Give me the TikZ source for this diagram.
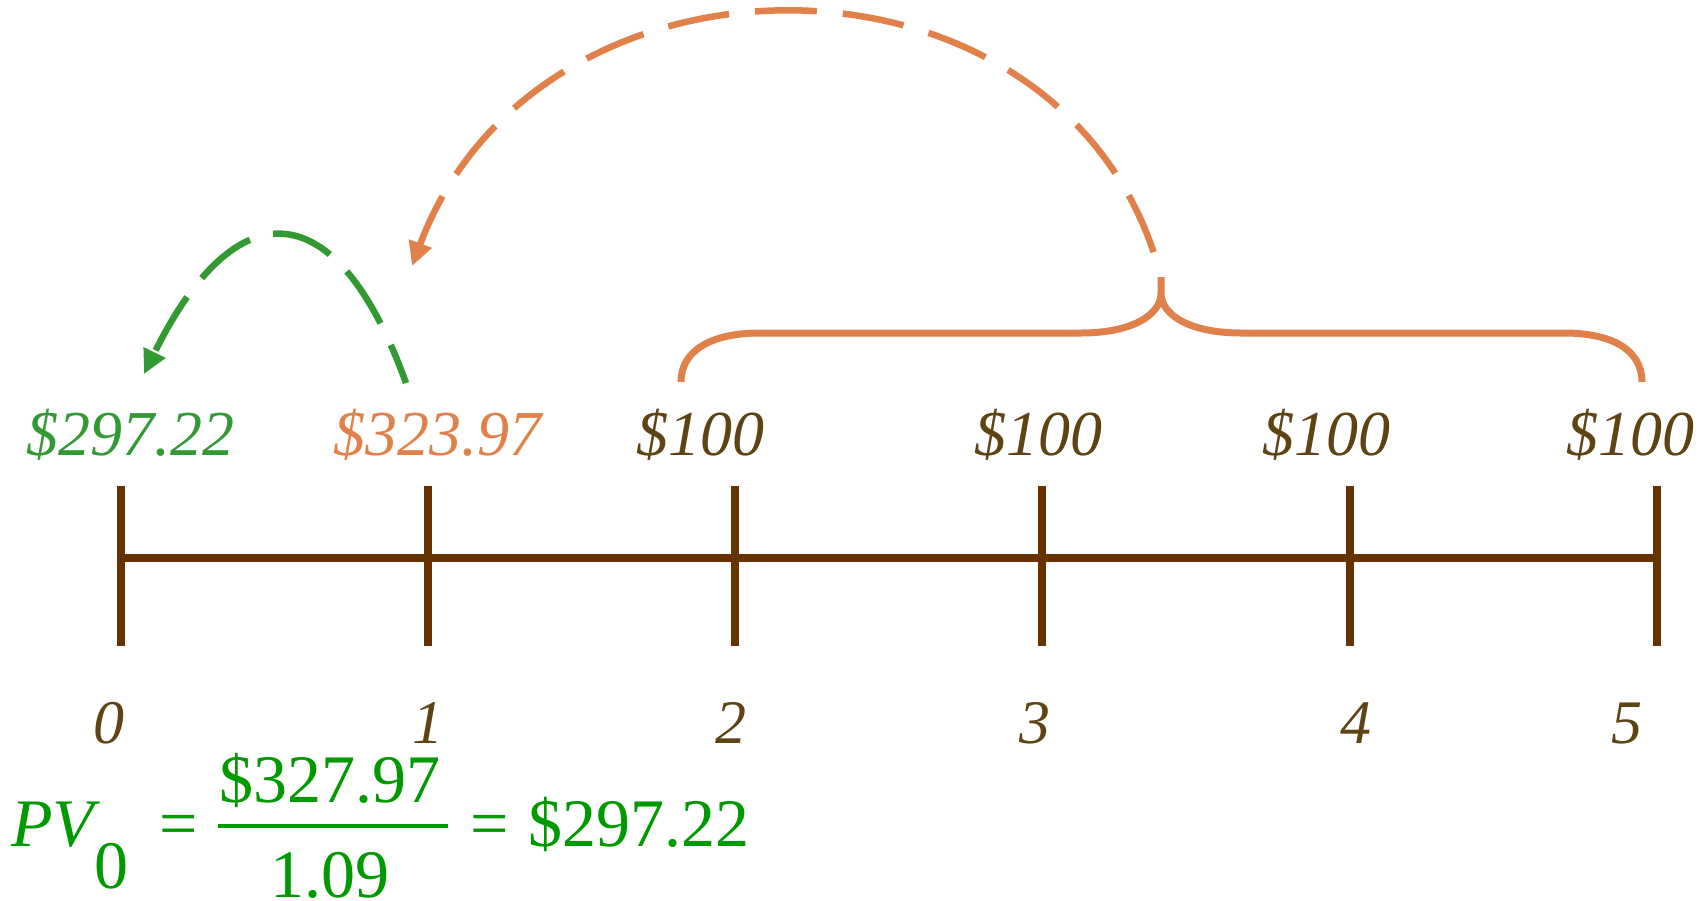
\documentclass[tikz,border=0pt]{standalone}
\usepackage{fontspec}
\setmainfont{Liberation Serif}
\usetikzlibrary{arrows.meta}
\definecolor{tl}{HTML}{663300}
\definecolor{lb}{HTML}{5E4314}
\definecolor{gr}{HTML}{339933}
\definecolor{fg}{HTML}{009900}
\definecolor{og}{HTML}{E0804A}
\begin{document}
\begin{tikzpicture}[x=1pt,y=-1pt,
  tickline/.style={draw=tl,line width=8pt},
  axisline/.style={draw=tl,line width=7.5pt},
  lab/.style={anchor=base,inner sep=0pt,font=\fontsize{64}{70}\selectfont\itshape},
  num/.style={anchor=base,inner sep=0pt,text=lb,font=\fontsize{62}{68}\selectfont\itshape},
  frm/.style={anchor=base,inner sep=0pt,text=fg,font=\fontsize{68}{72}\selectfont},
  jump/.style={line width=6.5pt,-{Triangle[length=24pt,width=23pt]}},
  bracestyle/.style={draw=og,line width=7pt}
]
\useasboundingbox (0,0) rectangle (1703,900);
% timeline
\foreach \i in {0,...,5}{
  \coordinate (t\i) at ({120.5+307.3*\i},558);
  \coordinate (t\i a) at ({120.5+307.3*\i},486);
  \coordinate (t\i b) at ({120.5+307.3*\i},646);
  \draw[tickline] (t\i a) -- (t\i b);
}
\draw[axisline] (t0) -- (t5);
% period numbers
\node[num] (n0) at (109,743) {0};
\node[num] (n1) at (428,743) {1};
\node[num] (n2) at (731,743) {2};
\node[num] (n3) at (1035,743) {3};
\node[num] (n4) at (1356,743) {4};
\node[num] (n5) at (1627,743) {5};
% cash flow labels
\node[lab,text=gr] (v0) at (131,455) {\$297.22};
\node[lab,text=og] (v1) at (437,455) {\$323.97};
\node[lab,text=lb] (c2) at (700,455) {\$100};
\node[lab,text=lb] (c3) at (1038,455) {\$100};
\node[lab,text=lb] (c4) at (1326,455) {\$100};
\node[lab,text=lb] (c5) at (1630,455) {\$100};
% brace
\coordinate (bl) at (681,382);
\coordinate (br) at (1642,382);
\coordinate (bj) at (1161,293);
\coordinate (btip) at (1161,277);
\draw[bracestyle] (bl) .. controls (681,350) and (712,333) .. (760,333) -- (1081,333)
  .. controls (1132,333) and (1161,315) .. (bj) -- (btip)
  (bj) .. controls (1161,315) and (1190,333) .. (1241,333) -- (1564,333)
  .. controls (1612,333) and (1642,350) .. (br);
% arcs
\coordinate (oend) at (412,266);
\draw[jump,draw=og,dash pattern=on 62pt off 26pt,dash phase=62pt] (btip) .. controls (1071,-70) and (540,-76) .. (oend);
\coordinate (gstart) at (406,383);
\coordinate (gend) at (144,374);
\draw[jump,draw=gr,dash pattern=on 62pt off 24pt,dash phase=21pt] (gstart) .. controls (336,189) and (235,189) .. (gend);
% formula
\node[frm,anchor=base west] (pv) at (11,846) {\itshape PV};
\node[frm] (sub) at (111,888) {0};
\node[frm] (eq1) at (179,846) {=};
\node[frm] (numr) at (330,802) {\$327.97};
\coordinate (fb1) at (218,826);
\coordinate (fb2) at (448,826);
\draw[fg,line width=4pt] (fb1) -- (fb2);
\node[frm] (den) at (330,897) {1.09};
\node[frm] (eq2) at (490,846) {=};
\node[frm,anchor=base west] (res) at (528,846) {\$297.22};
\end{tikzpicture}
\end{document}
